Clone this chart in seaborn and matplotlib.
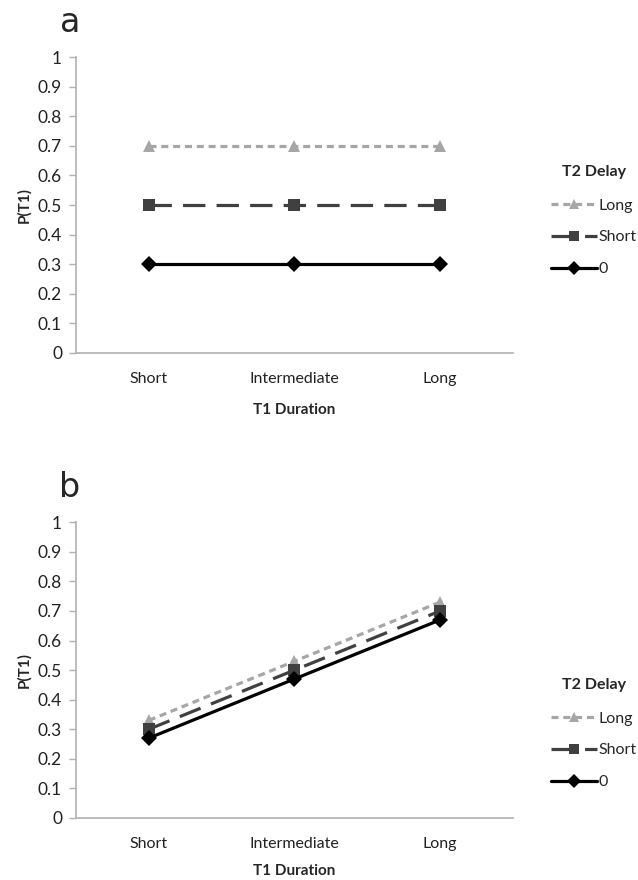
import seaborn as sns
import matplotlib.pyplot as plt
import pandas as pd
from matplotlib.ticker import FixedLocator

# data
durations = ['Short', 'Intermediate', 'Long']
delays = ['Long', 'Short', '0']
panel_a = {'Long': [0.7, 0.7, 0.7], 'Short': [0.5, 0.5, 0.5], '0': [0.3, 0.3, 0.3]}
panel_b = {'Long': [0.33, 0.53, 0.73], 'Short': [0.30, 0.50, 0.70], '0': [0.27, 0.47, 0.67]}
y_ticks = [0, 0.1, 0.2, 0.3, 0.4, 0.5, 0.6, 0.7, 0.8, 0.9, 1]
y_labels = ['0', '0.1', '0.2', '0.3', '0.4', '0.5', '0.6', '0.7', '0.8', '0.9', '1']

palette = {'Long': '#a6a6a6', 'Short': '#404040', '0': '#000000'}
markers = {'Long': '^', 'Short': 's', '0': 'D'}
dashes = {'Long': (2.2, 1.5), 'Short': (7, 3.5), '0': ''}

sns.set_theme(style='white')
plt.rcParams['font.family'] = ['Lato', 'DejaVu Sans']


def to_frame(values):
    rows = []
    for d in delays:
        for i, dur in enumerate(durations):
            rows.append({'T1 Duration': dur, 'pos': i, 'T2 Delay': d, 'P(T1)': values[d][i]})
    return pd.DataFrame(rows)


def draw_panel(ax, values, letter, legend_top, xlabel_pad):
    df = to_frame(values)
    sns.lineplot(data=df, x='pos', y='P(T1)', hue='T2 Delay', style='T2 Delay',
                 hue_order=delays, style_order=delays, palette=palette,
                 markers=markers, dashes=dashes, markersize=8.5, linewidth=2.3,
                 markeredgewidth=0, ax=ax)
    ax.set_xlim(-0.5, 2.5)
    ax.set_ylim(0, 1)
    ax.set_yticks(y_ticks)
    ax.set_yticklabels(y_labels, fontsize=12.5, color='#222222')
    ax.set_xticks(range(len(durations)))
    ax.set_xticklabels(durations, fontsize=11.5, color='#222222')
    ax.xaxis.set_minor_locator(FixedLocator([-0.5, 0.5, 1.5, 2.5]))
    ax.tick_params(axis='x', which='major', length=0, pad=14)
    ax.tick_params(axis='x', which='minor', length=5, color='#b0b0b0', width=1, direction='out')
    ax.tick_params(axis='y', length=5, color='#b0b0b0', width=1, direction='out', left=True, pad=5)
    for s in ['top', 'right']:
        ax.spines[s].set_visible(False)
    for s in ['left', 'bottom']:
        ax.spines[s].set_color('#b0b0b0')
        ax.spines[s].set_linewidth(1.2)
    ax.set_xlabel('T1 Duration', fontsize=11, fontweight='bold', labelpad=xlabel_pad)
    ax.set_ylabel('P(T1)', fontsize=11, fontweight='bold', labelpad=5)
    ax.text(-0.014, 1.085, letter, transform=ax.transAxes, fontsize=24, ha='center',
            va='baseline', family=['DejaVu Sans'])

    handles, labels = ax.get_legend_handles_labels()
    leg = ax.legend(handles, labels, title='T2 Delay', loc='upper right',
                    bbox_to_anchor=(0.998, legend_top), bbox_transform=ax.figure.transFigure,
                    borderaxespad=0, borderpad=0,
                    frameon=False, fontsize=11.5,
                    handlelength=2.9, handletextpad=0.1, labelspacing=1.1,
                    markerscale=0.8)
    leg.get_title().set_fontweight('bold')
    leg.get_title().set_fontsize(11.5)
    leg._legend_box.sep = 14


fig = plt.figure(figsize=(6.38, 8.8), dpi=100)
ax_a = fig.add_axes([0.119, 0.599, 0.685, 0.336])
ax_b = fig.add_axes([0.119, 0.0705, 0.685, 0.336])
draw_panel(ax_a, panel_a, 'a', 1 - 165 / 880, 12)
draw_panel(ax_b, panel_b, 'b', 1 - 678 / 880, 9)

plt.savefig('out.png', dpi=100)
plt.close()
